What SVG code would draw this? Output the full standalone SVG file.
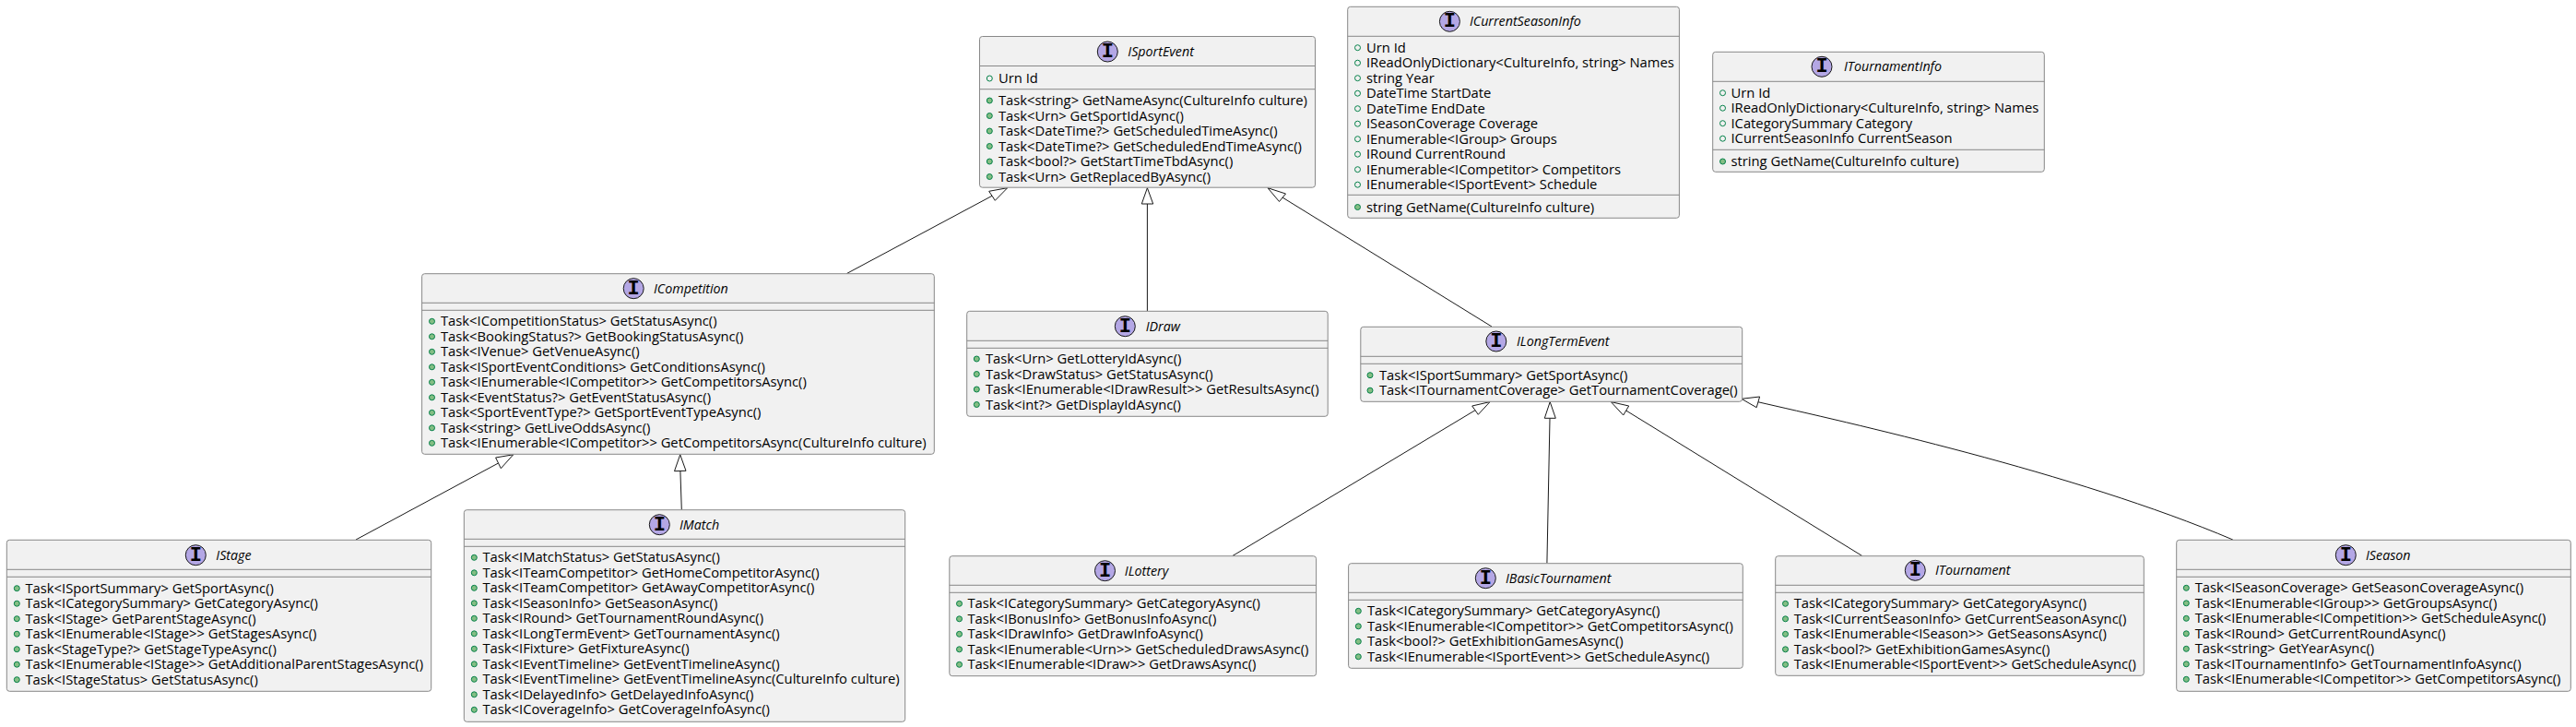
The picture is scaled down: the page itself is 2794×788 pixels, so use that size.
<svg xmlns="http://www.w3.org/2000/svg" width="2794" height="788" viewBox="0 0 2794 788">
<style>
text{font-family:"Open Sans","Liberation Sans",sans-serif;font-size:14.75px;fill:#000}
.t{font-style:italic;font-size:14.25px}
.i{font-family:"Liberation Mono",monospace;font-weight:bold;font-size:22px;text-anchor:middle}
.b{fill:#F1F1F1;stroke:#888;stroke-width:1}
.l{stroke:#888;stroke-width:1}
.s{fill:#B4A7E5;stroke:#181818;stroke-width:1}
.f{fill:none;stroke:#038048;stroke-width:1}
.m{fill:#84BE84;stroke:#038048;stroke-width:1}
.c{fill:none;stroke:#181818;stroke-width:1}
.a{fill:#fff;stroke:#181818;stroke-width:1}
</style>
<rect width="2794" height="788" fill="#fff"/>
<g id="connectors">
<path class="c" d="M1076,212.3L918.4,296.5"/><polygon class="a" points="1092.7,203.7 1072.7,207.3 1079.3,217.3"/>
<path class="c" d="M1244.4,221L1244.4,337"/><polygon class="a" points="1244.4,203.7 1238.3,221 1250.7,221"/>
<path class="c" d="M1391,214L1618,354"/><polygon class="a" points="1375,203.7 1394.5,210 1387.5,218.5"/>
<path class="c" d="M540.5,502L386,585"/><polygon class="a" points="556.7,492.8 537.6,496 543.3,507.7"/>
<path class="c" d="M737.9,510.5L739.3,552.5"/><polygon class="a" points="737.7,492.8 731.5,510.7 744,510.3"/>
<path class="c" d="M1600,444.7L1336.9,602.5"/><polygon class="a" points="1616,435.6 1596.7,440 1603.3,449.3"/>
<path class="c" d="M1681,453.5L1677.9,610.5"/><polygon class="a" points="1681.2,435.6 1675.3,453.3 1687.3,453.3"/>
<path class="c" d="M1763.7,445L2019.7,602.5"/><polygon class="a" points="1747.3,435.6 1766.7,440 1760.7,450"/>
<path class="c" d="M1906.7,435.7C2000,457 2250,512 2421.8,585"/><polygon class="a" points="1888.9,432.3 1908.6,430 1905.2,441.7"/>
</g>
<g id="ISportEvent">
<rect class="b" x="1062.5" y="39.5" width="364" height="163.7" rx="3"/>
<line class="l" x1="1062.5" x2="1426.5" y1="71.5" y2="71.5"/><line class="l" x1="1062.5" x2="1426.5" y1="96.7" y2="96.7"/>
<circle class="s" cx="1201.3" cy="56" r="11"/><text class="i" x="1201.3" y="62">I</text><text class="t" x="1223.3" y="61">ISportEvent</text>
<circle class="f" cx="1073.3" cy="85" r="3"/><text x="1083" y="90">Urn Id</text>
<circle class="m" cx="1073.3" cy="109" r="3"/><text x="1083" y="114">Task&lt;string&gt; GetNameAsync(CultureInfo culture)</text>
<circle class="m" cx="1073.3" cy="125.5" r="3"/><text x="1083" y="130.5">Task&lt;Urn&gt; GetSportIdAsync()</text>
<circle class="m" cx="1073.3" cy="142" r="3"/><text x="1083" y="147">Task&lt;DateTime?&gt; GetScheduledTimeAsync()</text>
<circle class="m" cx="1073.3" cy="158.5" r="3"/><text x="1083" y="163.5">Task&lt;DateTime?&gt; GetScheduledEndTimeAsync()</text>
<circle class="m" cx="1073.3" cy="175" r="3"/><text x="1083" y="180">Task&lt;bool?&gt; GetStartTimeTbdAsync()</text>
<circle class="m" cx="1073.3" cy="191.5" r="3"/><text x="1083" y="196.5">Task&lt;Urn&gt; GetReplacedByAsync()</text>
</g>
<g id="ICurrentSeasonInfo">
<rect class="b" x="1461.7" y="7.3" width="359.7" height="229" rx="3"/>
<line class="l" x1="1461.7" x2="1821.4" y1="39.3" y2="39.3"/><line class="l" x1="1461.7" x2="1821.4" y1="211.3" y2="211.3"/>
<circle class="s" cx="1572.4" cy="23.3" r="11"/><text class="i" x="1572.4" y="29.3">I</text><text class="t" x="1593.9" y="28.3">ICurrentSeasonInfo</text>
<circle class="f" cx="1472.5" cy="51.7" r="3"/><text x="1482" y="56.7">Urn Id</text>
<circle class="f" cx="1472.5" cy="68.2" r="3"/><text x="1482" y="73.2">IReadOnlyDictionary&lt;CultureInfo, string&gt; Names</text>
<circle class="f" cx="1472.5" cy="84.7" r="3"/><text x="1482" y="89.7">string Year</text>
<circle class="f" cx="1472.5" cy="101.2" r="3"/><text x="1482" y="106.2">DateTime StartDate</text>
<circle class="f" cx="1472.5" cy="117.7" r="3"/><text x="1482" y="122.7">DateTime EndDate</text>
<circle class="f" cx="1472.5" cy="134.2" r="3"/><text x="1482" y="139.2">ISeasonCoverage Coverage</text>
<circle class="f" cx="1472.5" cy="150.7" r="3"/><text x="1482" y="155.7">IEnumerable&lt;IGroup&gt; Groups</text>
<circle class="f" cx="1472.5" cy="167.2" r="3"/><text x="1482" y="172.2">IRound CurrentRound</text>
<circle class="f" cx="1472.5" cy="183.7" r="3"/><text x="1482" y="188.7">IEnumerable&lt;ICompetitor&gt; Competitors</text>
<circle class="f" cx="1472.5" cy="200.2" r="3"/><text x="1482" y="205.2">IEnumerable&lt;ISportEvent&gt; Schedule</text>
<circle class="m" cx="1472.5" cy="224.5" r="3"/><text x="1482" y="229.5">string GetName(CultureInfo culture)</text>
</g>
<g id="ITournamentInfo">
<rect class="b" x="1857.7" y="56.3" width="359.6" height="130" rx="3"/>
<line class="l" x1="1857.7" x2="2217.3" y1="88.3" y2="88.3"/><line class="l" x1="1857.7" x2="2217.3" y1="162.3" y2="162.3"/>
<circle class="s" cx="1976" cy="72.3" r="11"/><text class="i" x="1976" y="78.3">I</text><text class="t" x="2000" y="77.3">ITournamentInfo</text>
<circle class="f" cx="1868.5" cy="100.7" r="3"/><text x="1877.5" y="105.7">Urn Id</text>
<circle class="f" cx="1868.5" cy="117.2" r="3"/><text x="1877.5" y="122.2">IReadOnlyDictionary&lt;CultureInfo, string&gt; Names</text>
<circle class="f" cx="1868.5" cy="133.7" r="3"/><text x="1877.5" y="138.7">ICategorySummary Category</text>
<circle class="f" cx="1868.5" cy="150.2" r="3"/><text x="1877.5" y="155.2">ICurrentSeasonInfo CurrentSeason</text>
<circle class="m" cx="1868.5" cy="175" r="3"/><text x="1877.5" y="180">string GetName(CultureInfo culture)</text>
</g>
<g id="ICompetition">
<rect class="b" x="457.6" y="296.7" width="555.7" height="195.6" rx="3"/>
<line class="l" x1="457.6" x2="1013.3" y1="328.3" y2="328.3"/><line class="l" x1="457.6" x2="1013.3" y1="336.3" y2="336.3"/>
<circle class="s" cx="687.2" cy="312.7" r="11"/><text class="i" x="687.2" y="318.7">I</text><text class="t" x="709" y="317.7">ICompetition</text>
<circle class="m" cx="468.5" cy="348.3" r="3"/><text x="478" y="353.3">Task&lt;ICompetitionStatus&gt; GetStatusAsync()</text>
<circle class="m" cx="468.5" cy="364.8" r="3"/><text x="478" y="369.8">Task&lt;BookingStatus?&gt; GetBookingStatusAsync()</text>
<circle class="m" cx="468.5" cy="381.3" r="3"/><text x="478" y="386.3">Task&lt;IVenue&gt; GetVenueAsync()</text>
<circle class="m" cx="468.5" cy="397.8" r="3"/><text x="478" y="402.8">Task&lt;ISportEventConditions&gt; GetConditionsAsync()</text>
<circle class="m" cx="468.5" cy="414.3" r="3"/><text x="478" y="419.3">Task&lt;IEnumerable&lt;ICompetitor&gt;&gt; GetCompetitorsAsync()</text>
<circle class="m" cx="468.5" cy="430.8" r="3"/><text x="478" y="435.8">Task&lt;EventStatus?&gt; GetEventStatusAsync()</text>
<circle class="m" cx="468.5" cy="447.3" r="3"/><text x="478" y="452.3">Task&lt;SportEventType?&gt; GetSportEventTypeAsync()</text>
<circle class="m" cx="468.5" cy="463.8" r="3"/><text x="478" y="468.8">Task&lt;string&gt; GetLiveOddsAsync()</text>
<circle class="m" cx="468.5" cy="480.3" r="3"/><text x="478" y="485.3">Task&lt;IEnumerable&lt;ICompetitor&gt;&gt; GetCompetitorsAsync(CultureInfo culture)</text>
</g>
<g id="IDraw">
<rect class="b" x="1048.7" y="337.3" width="391.5" height="114" rx="3"/>
<line class="l" x1="1048.7" x2="1440.2" y1="369.3" y2="369.3"/><line class="l" x1="1048.7" x2="1440.2" y1="377.3" y2="377.3"/>
<circle class="s" cx="1220.3" cy="353.7" r="11"/><text class="i" x="1220.3" y="359.7">I</text><text class="t" x="1242.7" y="358.7">IDraw</text>
<circle class="m" cx="1059.3" cy="389" r="3"/><text x="1069" y="394">Task&lt;Urn&gt; GetLotteryIdAsync()</text>
<circle class="m" cx="1059.3" cy="405.5" r="3"/><text x="1069" y="410.5">Task&lt;DrawStatus&gt; GetStatusAsync()</text>
<circle class="m" cx="1059.3" cy="422" r="3"/><text x="1069" y="427">Task&lt;IEnumerable&lt;IDrawResult&gt;&gt; GetResultsAsync()</text>
<circle class="m" cx="1059.3" cy="438.5" r="3"/><text x="1069" y="443.5">Task&lt;int?&gt; GetDisplayIdAsync()</text>
</g>
<g id="ILongTermEvent">
<rect class="b" x="1475.8" y="354.3" width="413.9" height="81" rx="3"/>
<line class="l" x1="1475.8" x2="1889.7" y1="386.3" y2="386.3"/><line class="l" x1="1475.8" x2="1889.7" y1="394.3" y2="394.3"/>
<circle class="s" cx="1622.8" cy="370" r="11"/><text class="i" x="1622.8" y="376">I</text><text class="t" x="1645" y="375">ILongTermEvent</text>
<circle class="m" cx="1486" cy="406.7" r="3"/><text x="1496" y="411.7">Task&lt;ISportSummary&gt; GetSportAsync()</text>
<circle class="m" cx="1486" cy="423.2" r="3"/><text x="1496" y="428.2">Task&lt;ITournamentCoverage&gt; GetTournamentCoverage()</text>
</g>
<g id="IStage">
<rect class="b" x="7.3" y="585.3" width="460.4" height="164" rx="3"/>
<line class="l" x1="7.3" x2="467.7" y1="617.3" y2="617.3"/><line class="l" x1="7.3" x2="467.7" y1="625.3" y2="625.3"/>
<circle class="s" cx="212.3" cy="601.7" r="11"/><text class="i" x="212.3" y="607.7">I</text><text class="t" x="234.3" y="606.7">IStage</text>
<circle class="m" cx="18.3" cy="637.7" r="3"/><text x="27.5" y="642.7">Task&lt;ISportSummary&gt; GetSportAsync()</text>
<circle class="m" cx="18.3" cy="654.2" r="3"/><text x="27.5" y="659.2">Task&lt;ICategorySummary&gt; GetCategoryAsync()</text>
<circle class="m" cx="18.3" cy="670.7" r="3"/><text x="27.5" y="675.7">Task&lt;IStage&gt; GetParentStageAsync()</text>
<circle class="m" cx="18.3" cy="687.2" r="3"/><text x="27.5" y="692.2">Task&lt;IEnumerable&lt;IStage&gt;&gt; GetStagesAsync()</text>
<circle class="m" cx="18.3" cy="703.7" r="3"/><text x="27.5" y="708.7">Task&lt;StageType?&gt; GetStageTypeAsync()</text>
<circle class="m" cx="18.3" cy="720.2" r="3"/><text x="27.5" y="725.2">Task&lt;IEnumerable&lt;IStage&gt;&gt; GetAdditionalParentStagesAsync()</text>
<circle class="m" cx="18.3" cy="736.7" r="3"/><text x="27.5" y="741.7">Task&lt;IStageStatus&gt; GetStatusAsync()</text>
</g>
<g id="IMatch">
<rect class="b" x="503.3" y="552.7" width="478.4" height="229.6" rx="3"/>
<line class="l" x1="503.3" x2="981.7" y1="584.3" y2="584.3"/><line class="l" x1="503.3" x2="981.7" y1="592.3" y2="592.3"/>
<circle class="s" cx="715.3" cy="568.7" r="11"/><text class="i" x="715.3" y="574.7">I</text><text class="t" x="737" y="573.7">IMatch</text>
<circle class="m" cx="514.3" cy="604.3" r="3"/><text x="523.5" y="609.3">Task&lt;IMatchStatus&gt; GetStatusAsync()</text>
<circle class="m" cx="514.3" cy="620.8" r="3"/><text x="523.5" y="625.8">Task&lt;ITeamCompetitor&gt; GetHomeCompetitorAsync()</text>
<circle class="m" cx="514.3" cy="637.3" r="3"/><text x="523.5" y="642.3">Task&lt;ITeamCompetitor&gt; GetAwayCompetitorAsync()</text>
<circle class="m" cx="514.3" cy="653.8" r="3"/><text x="523.5" y="658.8">Task&lt;ISeasonInfo&gt; GetSeasonAsync()</text>
<circle class="m" cx="514.3" cy="670.3" r="3"/><text x="523.5" y="675.3">Task&lt;IRound&gt; GetTournamentRoundAsync()</text>
<circle class="m" cx="514.3" cy="686.8" r="3"/><text x="523.5" y="691.8">Task&lt;ILongTermEvent&gt; GetTournamentAsync()</text>
<circle class="m" cx="514.3" cy="703.3" r="3"/><text x="523.5" y="708.3">Task&lt;IFixture&gt; GetFixtureAsync()</text>
<circle class="m" cx="514.3" cy="719.8" r="3"/><text x="523.5" y="724.8">Task&lt;IEventTimeline&gt; GetEventTimelineAsync()</text>
<circle class="m" cx="514.3" cy="736.3" r="3"/><text x="523.5" y="741.3">Task&lt;IEventTimeline&gt; GetEventTimelineAsync(CultureInfo culture)</text>
<circle class="m" cx="514.3" cy="752.8" r="3"/><text x="523.5" y="757.8">Task&lt;IDelayedInfo&gt; GetDelayedInfoAsync()</text>
<circle class="m" cx="514.3" cy="769.3" r="3"/><text x="523.5" y="774.3">Task&lt;ICoverageInfo&gt; GetCoverageInfoAsync()</text>
</g>
<g id="ILottery">
<rect class="b" x="1029.8" y="602.7" width="397.8" height="130" rx="3"/>
<line class="l" x1="1029.8" x2="1427.6" y1="634.3" y2="634.3"/><line class="l" x1="1029.8" x2="1427.6" y1="642.3" y2="642.3"/>
<circle class="s" cx="1198.5" cy="618.7" r="11"/><text class="i" x="1198.5" y="624.7">I</text><text class="t" x="1219.8" y="623.7">ILottery</text>
<circle class="m" cx="1040.5" cy="654.3" r="3"/><text x="1049.5" y="659.3">Task&lt;ICategorySummary&gt; GetCategoryAsync()</text>
<circle class="m" cx="1040.5" cy="670.8" r="3"/><text x="1049.5" y="675.8">Task&lt;IBonusInfo&gt; GetBonusInfoAsync()</text>
<circle class="m" cx="1040.5" cy="687.3" r="3"/><text x="1049.5" y="692.3">Task&lt;IDrawInfo&gt; GetDrawInfoAsync()</text>
<circle class="m" cx="1040.5" cy="703.8" r="3"/><text x="1049.5" y="708.8">Task&lt;IEnumerable&lt;Urn&gt;&gt; GetScheduledDrawsAsync()</text>
<circle class="m" cx="1040.5" cy="720.3" r="3"/><text x="1049.5" y="725.3">Task&lt;IEnumerable&lt;IDraw&gt;&gt; GetDrawsAsync()</text>
</g>
<g id="IBasicTournament">
<rect class="b" x="1462.6" y="610.7" width="427.7" height="113.6" rx="3"/>
<line class="l" x1="1462.6" x2="1890.3" y1="642.3" y2="642.3"/><line class="l" x1="1462.6" x2="1890.3" y1="650.3" y2="650.3"/>
<circle class="s" cx="1611.3" cy="626.7" r="11"/><text class="i" x="1611.3" y="632.7">I</text><text class="t" x="1633" y="631.7">IBasicTournament</text>
<circle class="m" cx="1473.3" cy="662.3" r="3"/><text x="1483" y="667.3">Task&lt;ICategorySummary&gt; GetCategoryAsync()</text>
<circle class="m" cx="1473.3" cy="678.8" r="3"/><text x="1483" y="683.8">Task&lt;IEnumerable&lt;ICompetitor&gt;&gt; GetCompetitorsAsync()</text>
<circle class="m" cx="1473.3" cy="695.3" r="3"/><text x="1483" y="700.3">Task&lt;bool?&gt; GetExhibitionGamesAsync()</text>
<circle class="m" cx="1473.3" cy="711.8" r="3"/><text x="1483" y="716.8">Task&lt;IEnumerable&lt;ISportEvent&gt;&gt; GetScheduleAsync()</text>
</g>
<g id="ITournament">
<rect class="b" x="1925.7" y="602.7" width="399.6" height="129.6" rx="3"/>
<line class="l" x1="1925.7" x2="2325.3" y1="634.3" y2="634.3"/><line class="l" x1="1925.7" x2="2325.3" y1="642.3" y2="642.3"/>
<circle class="s" cx="2077.3" cy="618.3" r="11"/><text class="i" x="2077.3" y="624.3">I</text><text class="t" x="2099" y="623.3">ITournament</text>
<circle class="m" cx="1936.5" cy="654.3" r="3"/><text x="1945.7" y="659.3">Task&lt;ICategorySummary&gt; GetCategoryAsync()</text>
<circle class="m" cx="1936.5" cy="670.8" r="3"/><text x="1945.7" y="675.8">Task&lt;ICurrentSeasonInfo&gt; GetCurrentSeasonAsync()</text>
<circle class="m" cx="1936.5" cy="687.3" r="3"/><text x="1945.7" y="692.3">Task&lt;IEnumerable&lt;ISeason&gt;&gt; GetSeasonsAsync()</text>
<circle class="m" cx="1936.5" cy="703.8" r="3"/><text x="1945.7" y="708.8">Task&lt;bool?&gt; GetExhibitionGamesAsync()</text>
<circle class="m" cx="1936.5" cy="720.3" r="3"/><text x="1945.7" y="725.3">Task&lt;IEnumerable&lt;ISportEvent&gt;&gt; GetScheduleAsync()</text>
</g>
<g id="ISeason">
<rect class="b" x="2360.7" y="585.3" width="427.6" height="164" rx="3"/>
<line class="l" x1="2360.7" x2="2788.3" y1="617.3" y2="617.3"/><line class="l" x1="2360.7" x2="2788.3" y1="625.3" y2="625.3"/>
<circle class="s" cx="2544.3" cy="601.7" r="11"/><text class="i" x="2544.3" y="607.7">I</text><text class="t" x="2566" y="606.7">ISeason</text>
<circle class="m" cx="2371.3" cy="637.3" r="3"/><text x="2380.7" y="642.3">Task&lt;ISeasonCoverage&gt; GetSeasonCoverageAsync()</text>
<circle class="m" cx="2371.3" cy="653.8" r="3"/><text x="2380.7" y="658.8">Task&lt;IEnumerable&lt;IGroup&gt;&gt; GetGroupsAsync()</text>
<circle class="m" cx="2371.3" cy="670.3" r="3"/><text x="2380.7" y="675.3">Task&lt;IEnumerable&lt;ICompetition&gt;&gt; GetScheduleAsync()</text>
<circle class="m" cx="2371.3" cy="686.8" r="3"/><text x="2380.7" y="691.8">Task&lt;IRound&gt; GetCurrentRoundAsync()</text>
<circle class="m" cx="2371.3" cy="703.3" r="3"/><text x="2380.7" y="708.3">Task&lt;string&gt; GetYearAsync()</text>
<circle class="m" cx="2371.3" cy="719.8" r="3"/><text x="2380.7" y="724.8">Task&lt;ITournamentInfo&gt; GetTournamentInfoAsync()</text>
<circle class="m" cx="2371.3" cy="736.3" r="3"/><text x="2380.7" y="741.3">Task&lt;IEnumerable&lt;ICompetitor&gt;&gt; GetCompetitorsAsync()</text>
</g>
</svg>
